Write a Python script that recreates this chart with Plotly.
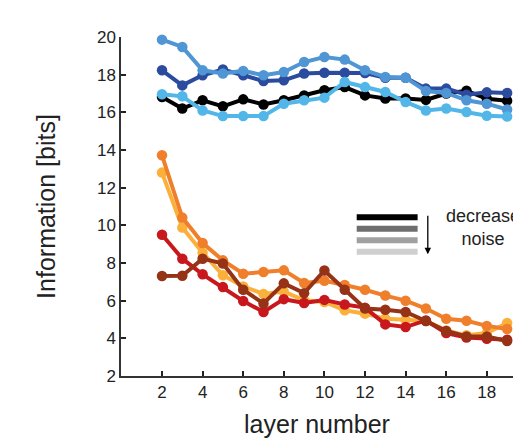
import plotly.graph_objects as go

layers = list(range(2, 20))

# top group (blue / black)
black = [16.81, 16.2, 16.64, 16.32, 16.69, 16.42, 16.64, 16.9, 17.17, 17.34, 16.9, 16.73, 16.73, 16.66, 17.0, 17.15, 16.72, 16.62]
dark_blue = [18.23, 17.43, 17.97, 18.27, 17.97, 17.66, 17.7, 18.06, 18.1, 18.1, 18.09, 17.84, 17.84, 17.26, 17.26, 16.94, 17.06, 17.03]
mid_blue = [19.86, 19.47, 18.23, 18.06, 18.2, 17.97, 18.14, 18.67, 18.94, 18.8, 18.23, 17.88, 17.84, 17.13, 17.03, 16.64, 16.46, 16.15]
light_blue = [16.96, 16.85, 16.1, 15.8, 15.8, 15.8, 16.46, 16.64, 16.78, 17.61, 17.34, 17.08, 16.55, 16.1, 16.2, 16.02, 15.82, 15.78]

# bottom group (warm)
yellow = [12.8, 9.88, 8.55, 7.35, 6.75, 6.36, 6.48, 6.02, 5.93, 5.49, 5.31, 5.04, 4.99, 4.92, 4.42, 4.16, 4.28, 4.81]
red = [9.5, 8.23, 7.4, 6.72, 5.98, 5.4, 6.08, 5.88, 6.04, 5.8, 5.63, 4.74, 4.6, 4.95, 4.28, 4.04, 3.98, 3.93]
orange = [13.72, 10.41, 9.06, 8.14, 7.43, 7.52, 7.61, 6.94, 7.06, 6.83, 6.58, 6.27, 6.0, 5.58, 5.04, 4.93, 4.66, 4.5]
brown = [7.31, 7.32, 8.23, 7.97, 6.58, 5.85, 6.92, 6.4, 7.6, 6.58, 5.58, 5.52, 5.4, 4.92, 4.39, 4.1, 4.1, 3.86]

series = [
    ("black", black, "#000000"),
    ("dark blue", dark_blue, "#2A4B9E"),
    ("mid blue", mid_blue, "#5096D4"),
    ("light blue", light_blue, "#52B7E8"),
    ("yellow", yellow, "#FBB03B"),
    ("red", red, "#C8181E"),
    ("orange", orange, "#F07F2B"),
    ("brown", brown, "#963216"),
]

legend_grays = ["#000000", "#6E6E6E", "#A0A0A0", "#CFCFCF"]

W, H = 513, 438
L, R, T, B = 120.5, 0, 36.7, 62.3
pw = W - L - R
ph = H - T - B


def px(x):
    return (x - L) / pw


def py(y):
    return (H - B - y) / ph


fig = go.Figure()
for name, vals, col in series:
    fig.add_trace(go.Scatter(
        x=layers, y=vals, mode="lines+markers", name=name,
        line=dict(color=col, width=4),
        marker=dict(color=col, size=10.5),
        cliponaxis=False, showlegend=False,
    ))

# legend-like grey bars
for i, g in enumerate(legend_grays):
    yc = 217 + i * 11.5
    fig.add_shape(type="rect", xref="paper", yref="paper",
                  x0=px(356.5), x1=px(417.5), y0=py(yc + 3), y1=py(yc - 3),
                  fillcolor=g, line=dict(width=0))

fig.add_annotation(xref="paper", yref="paper", axref="pixel", ayref="pixel",
                   x=px(427.7), y=py(254), ax=0, ay=-40, text="",
                   showarrow=True, arrowhead=2, arrowsize=1, arrowwidth=1.3,
                   arrowcolor="#000000")
fig.add_annotation(xref="paper", yref="paper", x=px(483), y=py(227),
                   text="decrease<br>noise", showarrow=False, align="center",
                   font=dict(size=18, color="#222222"), xanchor="center",
                   yanchor="middle")

font_family = "Liberation Sans, Arial, Helvetica, sans-serif"
fig.update_layout(
    width=W, height=H,
    margin=dict(l=L, r=R, t=T, b=B, pad=0),
    paper_bgcolor="white", plot_bgcolor="white",
    font=dict(family=font_family, color="#222222"),
    xaxis=dict(range=[-0.02, 19.29], tickmode="array", tickvals=list(range(2, 19, 2)),
               ticks="inside", ticklen=5, tickwidth=1.5, tickcolor="#222222",
               showline=True, linecolor="#333333", linewidth=1.5,
               showgrid=False, zeroline=False, tickfont=dict(size=17),
               title=dict(text="layer number", font=dict(size=25), standoff=16)),
    yaxis=dict(range=[2, 20], tickmode="array", tickvals=list(range(2, 21, 2)),
               ticks="inside", ticklen=5, tickwidth=1.5, tickcolor="#222222",
               showline=True, linecolor="#333333", linewidth=1.5,
               showgrid=False, zeroline=False, tickfont=dict(size=17),
               title=dict(text="Information [bits]", font=dict(size=25), standoff=34)),
)

fig.write_html("out.html")
